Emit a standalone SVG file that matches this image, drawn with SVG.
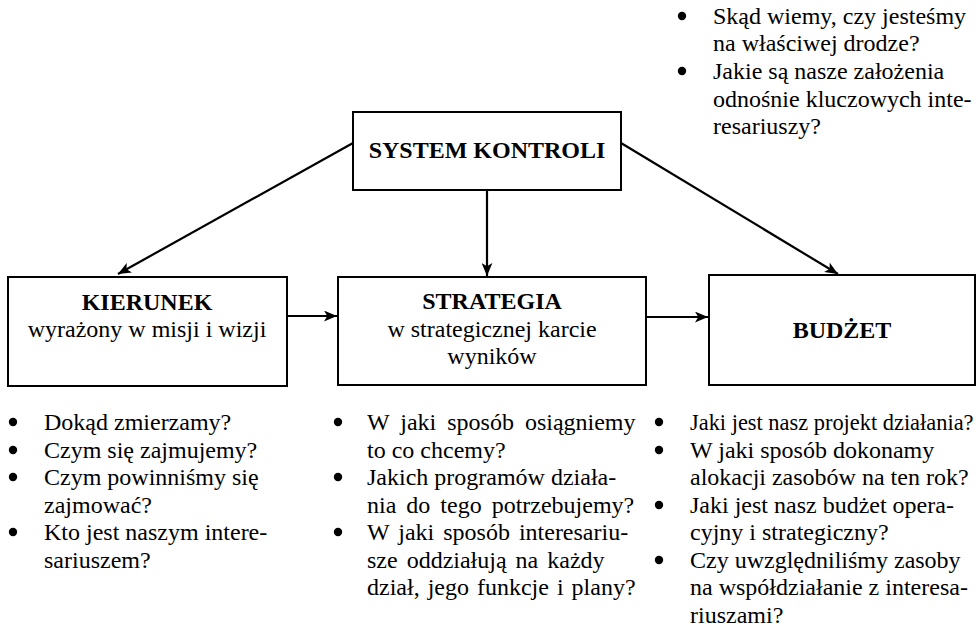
<svg xmlns="http://www.w3.org/2000/svg" width="978" height="634" viewBox="0 0 978 634" font-family="Liberation Serif, Times New Roman, DejaVu Serif, serif">
<style>
text{font-family:"Liberation Serif","Times New Roman","DejaVu Serif",serif;font-size:24px;fill:#000}
.b{font-weight:bold}
.c{text-anchor:middle}
.dot{fill:#000}
.box{fill:#fff;stroke:#000;stroke-width:2}
.con{stroke:#000;stroke-width:2.2;fill:none;marker-end:url(#ah)}
</style>
<defs>
<marker id="ah" viewBox="0 0 12 10" refX="12" refY="5" markerWidth="13" markerHeight="11" markerUnits="userSpaceOnUse" orient="auto">
<path d="M0,0 L12,5 L0,10 L3,5 z" fill="#000"/>
</marker>
</defs>
<rect width="978" height="634" fill="#fff"/>
<g id="connectors">
<line class="con" x1="353" y1="143" x2="118" y2="274"/>
<line class="con" x1="487" y1="190" x2="487" y2="276"/>
<line class="con" x1="621" y1="143" x2="838" y2="274"/>
<line class="con" x1="272" y1="316" x2="337" y2="316"/>
<line class="con" x1="646" y1="317" x2="708" y2="317"/>
</g>
<g id="system">
<rect class="box" x="353" y="112" width="268" height="78"/>
<text class="b c" x="487" y="158">SYSTEM KONTROLI</text>
</g>
<g id="kierunek">
<rect class="box" x="8" y="277" width="279" height="109"/>
<text class="b c" x="147" y="310">KIERUNEK</text>
<text class="c" x="147" y="337">wyrażony w misji i wizji</text>
</g>
<g id="strategia">
<rect class="box" x="338" y="277" width="308" height="108"/>
<text class="b c" x="492" y="309">STRATEGIA</text>
<text class="c" x="492" y="337">w strategicznej karcie</text>
<text class="c" x="492" y="364">wyników</text>
</g>
<g id="budzet">
<rect class="box" x="709" y="275" width="266" height="110"/>
<text class="b c" x="842" y="338">BUDŻET</text>
</g>
<g id="list-kontrola">
<circle class="dot" cx="682" cy="16" r="4.2"/>
<text x="713" y="24">Skąd wiemy, czy jesteśmy</text>
<text x="713" y="51">na właściwej drodze?</text>
<circle class="dot" cx="682" cy="71" r="4.2"/>
<text x="713" y="79">Jakie są nasze założenia</text>
<text x="713" y="107">odnośnie kluczowych inte-</text>
<text x="713" y="134">resariuszy?</text>
</g>
<g id="list-kierunek">
<circle class="dot" cx="13" cy="422" r="4.2"/>
<text x="44" y="430">Dokąd zmierzamy?</text>
<circle class="dot" cx="13" cy="450" r="4.2"/>
<text x="44" y="458">Czym się zajmujemy?</text>
<circle class="dot" cx="13" cy="477" r="4.2"/>
<text x="44" y="485">Czym powinniśmy się</text>
<text x="44" y="513">zajmować?</text>
<circle class="dot" cx="13" cy="532" r="4.2"/>
<text x="44" y="540">Kto jest naszym intere-</text>
<text x="44" y="568">sariuszem?</text>
</g>
<g id="list-strategia">
<circle class="dot" cx="338" cy="422" r="4.2"/>
<text x="367" y="430" word-spacing="5">W jaki sposób osiągniemy</text>
<text x="367" y="458">to co chcemy?</text>
<circle class="dot" cx="338" cy="477" r="4.2"/>
<text x="367" y="485">Jakich programów działa-</text>
<text x="367" y="513" word-spacing="4">nia do tego potrzebujemy?</text>
<circle class="dot" cx="338" cy="532" r="4.2"/>
<text x="367" y="540" word-spacing="3">W jaki sposób interesariu-</text>
<text x="367" y="568" word-spacing="3">sze oddziałują na każdy</text>
<text x="367" y="595" word-spacing="2">dział, jego funkcje i plany?</text>
</g>
<g id="list-budzet">
<circle class="dot" cx="659" cy="422" r="4.2"/>
<text x="690" y="430" font-size="22.4" style="font-size:22.4px">Jaki jest nasz projekt działania?</text>
<circle class="dot" cx="659" cy="450" r="4.2"/>
<text x="690" y="458">W jaki sposób dokonamy</text>
<text x="690" y="485">alokacji zasobów na ten rok?</text>
<circle class="dot" cx="659" cy="505" r="4.2"/>
<text x="690" y="513">Jaki jest nasz budżet opera-</text>
<text x="690" y="540">cyjny i strategiczny?</text>
<circle class="dot" cx="659" cy="560" r="4.2"/>
<text x="690" y="568">Czy uwzględniliśmy zasoby</text>
<text x="690" y="595">na współdziałanie z interesa-</text>
<text x="690" y="623">riuszami?</text>
</g>
</svg>
